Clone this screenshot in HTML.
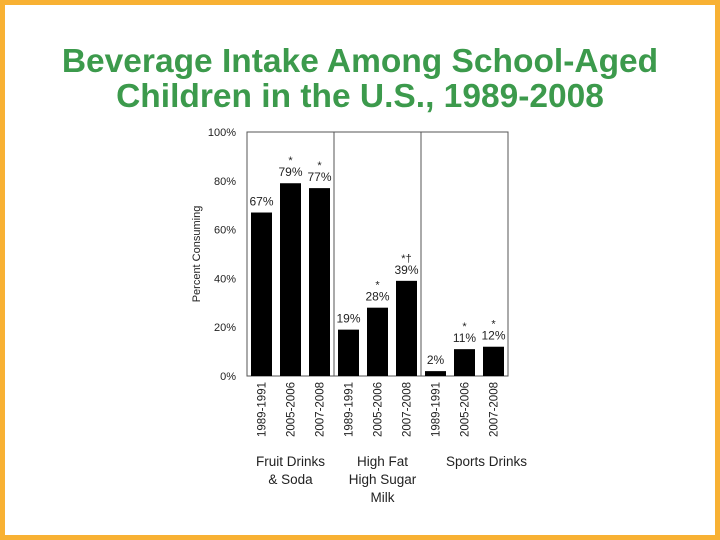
<!DOCTYPE html>
<html><head><meta charset="utf-8"><style>
body{margin:0;width:720px;height:540px;overflow:hidden;background:#fff}
#frame{position:absolute;left:0;top:0;width:710px;height:530px;border:5px solid #f8b133;background:#fff}
#title{position:absolute;left:0;top:44px;width:720px;text-align:center;font:bold 33.5px/35px "Liberation Sans",sans-serif;color:#3c9a4c}
svg{position:absolute;left:0;top:0}
text{font-family:"Liberation Sans",sans-serif;fill:#222}
</style></head><body>
<div id="frame"></div>
<div id="title">Beverage Intake Among School-Aged<br>Children in the U.S., 1989-2008</div>
<svg id="chart" width="720" height="540"></svg>
<script>
const periods=["1989-1991","2005-2006","2007-2008"];
const groups=["Fruit Drinks\n& Soda","High Fat\nHigh Sugar\nMilk","Sports Drinks"];
const values=[67,79,77,19,28,39,2,11,12];
const marks=["","*","*","","*","*†","","*","*"];
const yTicks=[0,20,40,60,80,100];
const NS="http://www.w3.org/2000/svg";
const svg=document.getElementById('chart');
const x0=247,x1=508,yTop=132,yBot=376,slot=29,bw=21;
const y=v=>yBot-(v/100)*(yBot-yTop);
const xc=i=>x0+slot*i+slot/2;
const groupOffset=[0,5,22];
function el(t,a,txt){const e=document.createElementNS(NS,t);for(const k in a)e.setAttribute(k,a[k]);if(txt!=null)e.textContent=txt;svg.appendChild(e);return e;}
const frame=el('rect',{x:x0,y:yTop,width:x1-x0,height:yBot-yTop,fill:'none',stroke:'#555','stroke-width':1});


yTicks.forEach(t=>{const e=el('text',{x:236,y:y(t)+4,'text-anchor':'end','font-size':11},t+'%');

});
const yt=el('text',{x:0,y:0,'text-anchor':'middle','font-size':11,transform:`translate(200,${(yTop+yBot)/2}) rotate(-90)`},'Percent Consuming');


groups.forEach((g,gi)=>{
 if(gi>0){const l=el('line',{x1:x0+gi*3*slot,x2:x0+gi*3*slot,y1:yTop,y2:yBot,stroke:'#555','stroke-width':1});
 
 }
 const lines=g.split('\n');
 lines.forEach((ln,li)=>{const e=el('text',{x:xc(gi*3+1)+groupOffset[gi],y:466+li*18,'text-anchor':'middle','font-size':13.5},ln);
 
 });
});
values.forEach((v,i)=>{
 const b=el('rect',{x:xc(i)-bw/2,y:y(v),width:bw,height:yBot-y(v),fill:'#000'});
 
 
 const lb=el('text',{x:xc(i),y:y(v)-7,'text-anchor':'middle','font-size':12},v+'%');
 
 
 if(marks[i]){const m=el('text',{x:xc(i),y:y(v)-19,'text-anchor':'middle','font-size':11},marks[i]);
 
 }
 const p=el('text',{x:0,y:0,'text-anchor':'end','font-size':11.5,transform:`translate(${xc(i)+4},382) rotate(-90)`},periods[i%3]);
 
 
});
</script>
</body></html>
